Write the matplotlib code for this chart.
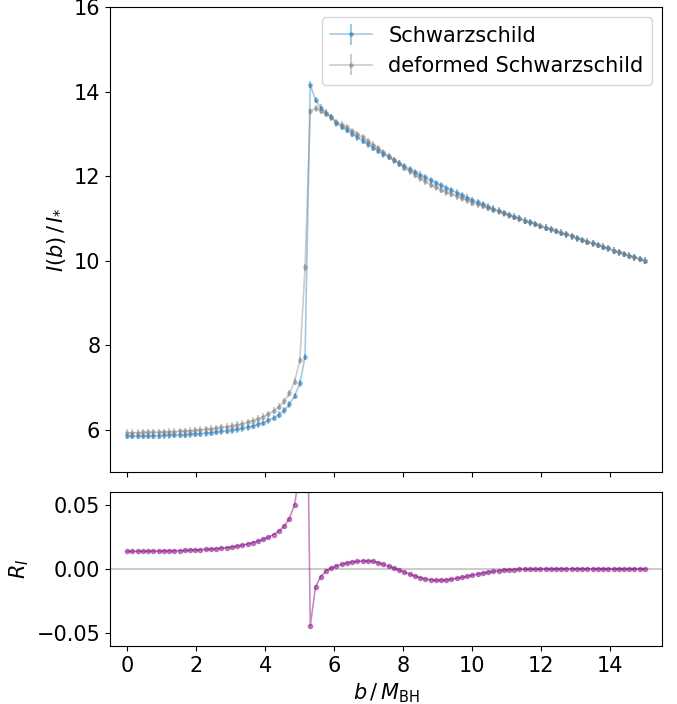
import numpy as np
import matplotlib
matplotlib.use('Agg')
import matplotlib.pyplot as plt

# impact parameter grid (100 samples from 0 to 15 M_BH)
b = np.linspace(0, 15, 100)

# intensity profile, Schwarzschild
I_schw = [5.85, 5.85, 5.85, 5.855, 5.855, 5.86, 5.86, 5.865, 5.87, 5.875,
          5.88, 5.885, 5.89, 5.90, 5.91, 5.92, 5.93, 5.945, 5.96, 5.975,
          5.99, 6.01, 6.03, 6.06, 6.09, 6.13, 6.17, 6.22, 6.28, 6.36,
          6.46, 6.60, 6.80, 7.10, 7.72, 14.16, 13.80, 13.62, 13.50, 13.39,
          13.25, 13.17, 13.09, 13.00, 12.92, 12.84, 12.75, 12.67, 12.60, 12.52,
          12.45, 12.37, 12.30, 12.23, 12.16, 12.10, 12.03, 11.97, 11.90, 11.84,
          11.78, 11.72, 11.67, 11.61, 11.55, 11.49, 11.43, 11.38, 11.33, 11.28,
          11.23, 11.18, 11.13, 11.08, 11.04, 11.00, 10.95, 10.91, 10.87, 10.82,
          10.78, 10.74, 10.70, 10.66, 10.62, 10.58, 10.53, 10.49, 10.45, 10.41,
          10.37, 10.33, 10.29, 10.24, 10.20, 10.16, 10.12, 10.08, 10.04, 10.00]

# intensity profile, deformed Schwarzschild
I_def = [5.930, 5.930, 5.930, 5.936, 5.936, 5.941, 5.941, 5.947, 5.953, 5.958,
         5.964, 5.970, 5.976, 5.987, 5.999, 6.010, 6.022, 6.039, 6.057, 6.074,
         6.092, 6.116, 6.142, 6.178, 6.215, 6.263, 6.313, 6.374, 6.448, 6.548,
         6.674, 6.859, 7.141, 7.640, 9.843, 13.533, 13.607, 13.538, 13.478, 13.401,
         13.280, 13.217, 13.152, 13.070, 12.998, 12.920, 12.829, 12.746, 12.662, 12.565,
         12.476, 12.380, 12.290, 12.199, 12.111, 12.033, 11.948, 11.877, 11.799, 11.736,
         11.676, 11.620, 11.577, 11.525, 11.475, 11.425, 11.375, 11.334, 11.294, 11.252,
         11.209, 11.164, 11.119, 11.072, 11.034, 10.997, 10.948, 10.908, 10.869, 10.82,
         10.78, 10.74, 10.70, 10.66, 10.62, 10.58, 10.53, 10.49, 10.45, 10.41,
         10.37, 10.33, 10.29, 10.24, 10.20, 10.16, 10.12, 10.08, 10.04, 10.00]

# uncertainty on both profiles
I_err = 0.08

# relative difference R_I
R_I = [0.0137, 0.0137, 0.0137, 0.0138, 0.0138, 0.0139, 0.0139, 0.0140, 0.0141, 0.0142,
       0.0143, 0.0144, 0.0146, 0.0148, 0.0150, 0.0152, 0.0155, 0.0158, 0.0162, 0.0166,
       0.0171, 0.0177, 0.0185, 0.0194, 0.0205, 0.0217, 0.0231, 0.0248, 0.0268, 0.0295,
       0.0332, 0.0392, 0.0502, 0.076, 0.275, -0.0443, -0.0140, -0.0060, -0.0016, 0.0008,
       0.0023, 0.0036, 0.0047, 0.0054, 0.0060, 0.0062, 0.0062, 0.0060, 0.0049, 0.0036,
       0.0021, 0.0008, -0.0008, -0.0025, -0.0040, -0.0055, -0.0068, -0.0078, -0.0085, -0.0088,
       -0.0088, -0.0085, -0.0080, -0.0073, -0.0065, -0.0057, -0.0048, -0.0040, -0.0032, -0.0025,
       -0.0019, -0.0014, -0.0010, -0.0007, -0.0005, -0.0003, -0.0002, -0.0002, -0.0001, -0.0001,
       0.0, 0.0, 0.0, 0.0, 0.0, 0.0, 0.0, 0.0, 0.0, 0.0,
       0.0, 0.0, 0.0, 0.0, 0.0, 0.0, 0.0, 0.0, 0.0, 0.0]

plt.rcParams['font.size'] = 15

fig = plt.figure(figsize=(6.77, 7.04), dpi=100)
ax1 = fig.add_axes([0.1625, 0.3295, 0.8156, 0.6605])
ax2 = fig.add_axes([0.1625, 0.0824, 0.8156, 0.2188], sharex=ax1)

# top panel: the two profiles
ax1.errorbar(b, I_schw, yerr=I_err, fmt='.-', color='tab:blue', alpha=0.4,
             ms=5, lw=1.2, elinewidth=1.5, label='Schwarzschild')
ax1.errorbar(b, I_def, yerr=I_err, fmt='.-', color='gray', alpha=0.4,
             ms=5, lw=1.2, elinewidth=1.5, label='deformed Schwarzschild')
ax1.set_ylim(5, 16)
ax1.set_ylabel(r'$I(b)\,/\,I_{*}$')
ax1.tick_params(labelbottom=False)
ax1.legend(loc='upper right')

# bottom panel: relative difference
ax2.axhline(0, color='0.8', lw=1.5, zorder=0)
ax2.plot(b, R_I, '.-', color='purple', alpha=0.45, ms=6, lw=1.2)
ax2.set_ylim(-0.06, 0.06)
ax2.set_xlim(-0.5, 15.5)
ax2.set_xlabel(r'$b\,/\,M_{\rm BH}$')
ax2.set_ylabel(r'$R_I$')

plt.savefig('out.png', dpi=100)
plt.close()
